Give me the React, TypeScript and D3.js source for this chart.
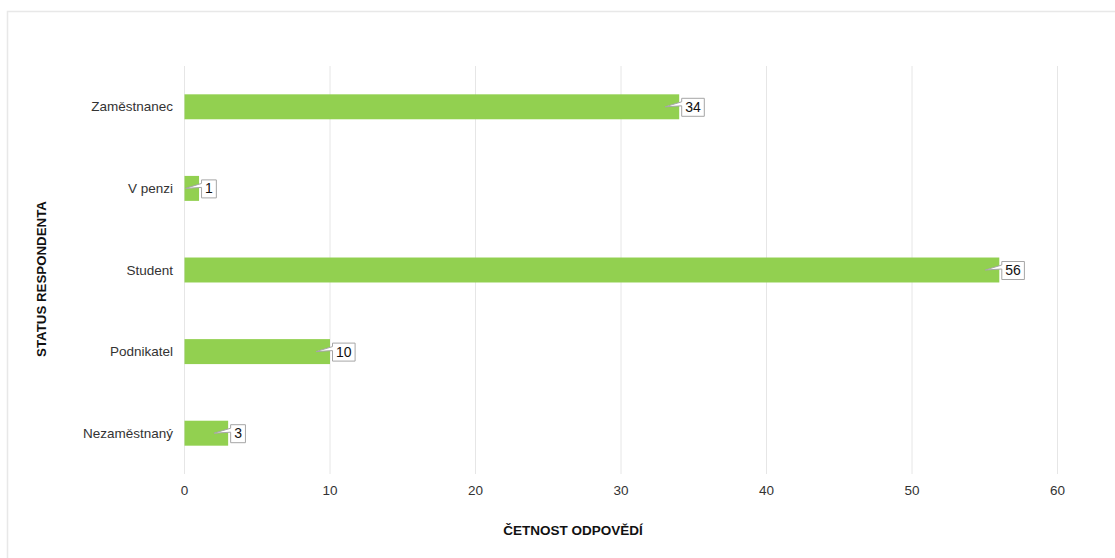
import React from "react";
import * as d3 from "d3";

const categories = ["Zaměstnanec", "V penzi", "Student", "Podnikatel", "Nezaměstnaný"];
const values = [34, 1, 56, 10, 3];
const xTicks = [0, 10, 20, 30, 40, 50, 60];
const xTitle = "ČETNOST ODPOVĚDÍ";
const yTitle = "STATUS RESPONDENTA";

const W = 1115;
const H = 558;
const left = 184.5;
const right = 1057.5;
const top = 66;
const bottom = 474;
const FONT = "'Liberation Sans', Arial, sans-serif";

export default function App() {
  const x = d3.scaleLinear().domain([0, 60]).range([left, right]);
  const y = d3.scaleBand<string>().domain(categories).range([top, bottom]).paddingInner(0.694).paddingOuter(0.347);
  const bw = y.bandwidth();

  return (
    <svg width={W} height={H} style={{ position: "absolute", left: 0, top: 0 }} fontFamily={FONT}>
      <rect x={0} y={0} width={W} height={H} fill="#fff" />
      <rect x={7.5} y={11.5} width={W + 20} height={H + 20} fill="#fff" stroke="#e8e8e8" strokeWidth={1.5} />
      {xTicks.map((t) => (
        <g key={t}>
          <line x1={x(t)} x2={x(t)} y1={top} y2={bottom} stroke="#e6e6e6" strokeWidth={1} />
          <text x={x(t)} y={495} textAnchor="middle" fontSize={13.5} fill="#333">{t}</text>
        </g>
      ))}
      {categories.map((c, i) => {
        const yy = y(c)!;
        const cy = yy + bw / 2;
        const xe = x(values[i]);
        const label = String(values[i]);
        const boxW = 7 + label.length * 7.8;
        const bx = xe + 2.5;
        const by = cy - 8.5;
        const bh = 18;
        const tip = Math.max(x(0) + 1, xe - 14);
        const path = `M${bx},${by} H${bx + boxW} V${by + bh} H${bx} V${cy - 1} L${tip},${cy} L${bx},${cy - 5} Z`;
        return (
          <g key={c}>
            <text x={173} y={cy + 4.5} textAnchor="end" fontSize={13.5} fill="#333">{c}</text>
            <rect x={x(0)} y={yy} width={xe - x(0)} height={bw} fill="#92D050" />
            <path d={path} fill="#fff" stroke="#a6a6a6" strokeWidth={1} />
            <text x={bx + boxW / 2} y={cy + 5} textAnchor="middle" fontSize={14} fill="#111">{label}</text>
          </g>
        );
      })}
      <text x={573} y={535} textAnchor="middle" fontSize={13.5} fontWeight="bold" fill="#111">{xTitle}</text>
      <text transform={`translate(46,279) rotate(-90)`} textAnchor="middle" fontSize={13.3} fontWeight="bold" fill="#111">{yTitle}</text>
    </svg>
  );
}
